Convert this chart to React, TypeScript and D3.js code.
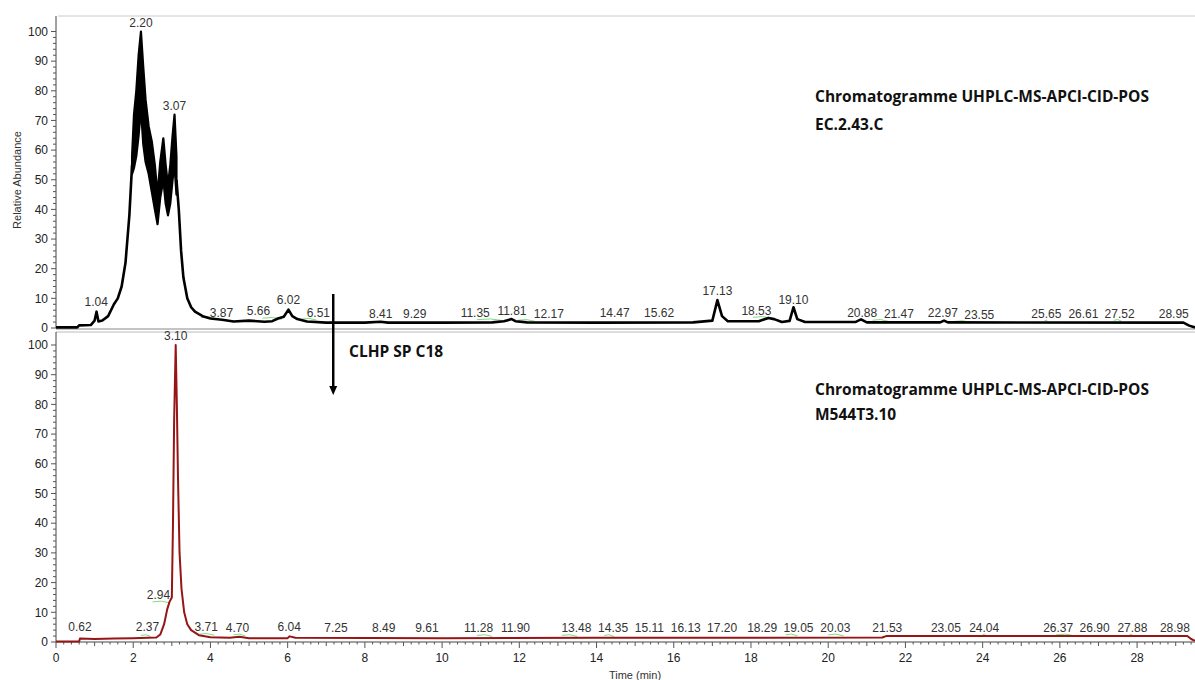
import * as d3 from "d3"

// EC.2.43.C trace (time min, relative abundance), before and after the noisy cluster
const topRise: [number, number][] = [
  [0, 0.2], [0.55, 0.2], [0.6, 0.9], [0.9, 1.0], [1.0, 2.5], [1.05, 5.5], [1.1, 2.2],
  [1.2, 2.5], [1.35, 4], [1.5, 8], [1.6, 10], [1.7, 14], [1.8, 22], [1.9, 38], [1.97, 55],
]
const topTail: [number, number][] = [
  [3.12, 50], [3.18, 40], [3.24, 26], [3.3, 17], [3.4, 10], [3.5, 7], [3.6, 5.5], [3.8, 4],
  [4.0, 3.2], [4.3, 2.8], [4.6, 2.2], [5.0, 2.5], [5.4, 2.1], [5.6, 2.3], [5.75, 3.2],
  [5.9, 3.8], [6.02, 6.2], [6.12, 4], [6.25, 3], [6.5, 2.2], [7.0, 1.8], [8.0, 1.8],
  [8.4, 2.1], [8.6, 1.8], [10, 1.8], [11.3, 1.9], [11.6, 2.3], [11.8, 3], [11.9, 2.3],
  [12.2, 1.9], [14, 1.8], [16.5, 1.9], [17.0, 2.5], [17.13, 9.4], [17.25, 4], [17.4, 2.3],
  [18.2, 2.3], [18.45, 3.4], [18.6, 3], [18.8, 2], [19.0, 2.4], [19.1, 7], [19.2, 3],
  [19.4, 2], [20.7, 2], [20.85, 2.9], [21.0, 1.9], [22.9, 1.9], [23.0, 2.5], [23.1, 1.9],
  [29.2, 1.8], [29.35, 0.8], [29.5, 0.2],
]

// noisy part of the main cluster: [time, low, high]
const topBand: [number, number, number][] = [
  [1.97, 52, 58], [2.02, 54, 72], [2.08, 58, 80], [2.14, 65, 92], [2.2, 74, 100],
  [2.26, 62, 88], [2.32, 56, 77], [2.4, 52, 68], [2.48, 46, 63], [2.56, 40, 55],
  [2.63, 35, 45], [2.7, 44, 56], [2.78, 50, 64], [2.84, 42, 55], [2.9, 38, 48],
  [2.96, 42, 55], [3.02, 50, 65], [3.07, 55, 72], [3.12, 45, 58],
]

// M544T3.10 trace
const bottomTrace: [number, number][] = [
  [0, 0.2], [0.6, 0.2], [0.62, 1.2], [1.0, 1.0], [1.5, 1.2], [2.0, 1.3], [2.37, 1.4],
  [2.6, 1.5], [2.7, 2.5], [2.8, 6], [2.88, 11], [2.94, 13.5], [3.0, 15], [3.03, 40],
  [3.06, 75], [3.1, 100], [3.13, 80], [3.16, 55], [3.2, 30], [3.25, 18], [3.32, 10],
  [3.4, 6], [3.5, 4], [3.7, 2.3], [4.0, 1.6], [4.5, 1.4], [4.75, 1.8], [5.0, 1.3],
  [6.0, 1.3], [6.05, 1.9], [6.2, 1.4], [10, 1.3], [14, 1.4], [21.4, 1.5], [21.5, 2.0],
  [29.3, 2.0], [29.4, 1.0], [29.5, 0.4],
]

// peak labels: [label, apex height]
const topPeaks: [string, number][] = [
  ["1.04", 5.7], ["2.20", 100], ["3.07", 72], ["3.87", 2], ["5.66", 2.6], ["6.02", 6.4],
  ["6.51", 2], ["8.41", 1.8], ["9.29", 1.8], ["11.35", 2], ["11.81", 2.7], ["12.17", 1.8],
  ["14.47", 2], ["15.62", 2], ["17.13", 9.4], ["18.53", 2.6], ["19.10", 6.4], ["20.88", 2],
  ["21.47", 1.8], ["22.97", 2], ["23.55", 1.5], ["25.65", 1.8], ["26.61", 1.8],
  ["27.52", 1.8], ["28.95", 1.8],
]
const bottomPeaks: [string, number][] = [
  ["0.62", 2], ["2.37", 2], ["2.94", 12.8], ["3.10", 100], ["3.71", 2], ["4.70", 1.7],
  ["6.04", 2], ["7.25", 1.7], ["8.49", 1.7], ["9.61", 1.7], ["11.28", 1.7], ["11.90", 1.8],
  ["13.48", 1.7], ["14.35", 1.7], ["15.11", 1.7], ["16.13", 1.7], ["17.20", 1.7],
  ["18.29", 1.8], ["19.05", 1.7], ["20.03", 1.7], ["21.53", 1.7], ["23.05", 1.7],
  ["24.04", 1.7], ["26.37", 1.7], ["26.90", 1.8], ["27.88", 1.7], ["28.98", 1.7],
]

// green integration marks: [start, end, level]
const topMarks: [number, number, number][] = [
  [3.75, 4.15, 3.5], [5.35, 5.85, 3.3], [6.35, 6.75, 3], [10.9, 11.6, 2.8],
  [11.95, 12.4, 2.6], [18.05, 18.55, 3.6], [21.15, 21.55, 2.6], [23.25, 23.7, 2.2],
  [25.6, 25.7, 2.4], [27.4, 27.6, 2.6],
]
const bottomMarks: [number, number, number][] = [
  [2.2, 2.45, 2.2], [2.5, 2.95, 13.5], [3.7, 4.1, 2.6], [4.6, 4.9, 2.4], [10.9, 11.3, 2.2],
  [13.1, 13.5, 2.2], [14.2, 14.45, 2.2], [18.9, 19.2, 2.4], [20.0, 20.4, 2.4],
  [24.0, 24.1, 2.4], [25.9, 26.4, 2.4], [27.8, 27.9, 2.4],
]

const xTicks = d3.range(0, 29, 2)
const yTicks = d3.range(0, 101, 10)
const arrowTime = 7.18

const W = 1195
const H = 680
const FONT = "'Liberation Sans', Arial, sans-serif"
const NOTE_FONT = "'Open Sans', 'Noto Sans', sans-serif"
const RED = "#961515"

type Placed = { t: string; h: number; x: number; y: number; w: number; cx: number }

const bisect = d3.bisector((d: [number, number]) => d[0]).left

export default function App() {
  const x = d3.scaleLinear().domain([0, 29.5]).range([56, 1195])
  const yTop = d3.scaleLinear().domain([0, 100]).range([328, 31.5])
  const yBot = d3.scaleLinear().domain([0, 100]).range([642, 345])

  const line = (y: d3.ScaleLinear<number, number>) =>
    d3.line<[number, number]>().x((d) => x(d[0])).y((d) => y(d[1]))
  const band = d3
    .area<[number, number, number]>()
    .x((d) => x(d[0]))
    .y0((d) => yTop(d[1]))
    .y1((d) => yTop(d[2]))

  // upper outline of each trace, used only to keep labels off the curve
  const topOutline: [number, number][] = [
    ...topRise,
    ...topBand.map((d): [number, number] => [d[0], d[2]]),
    ...topTail,
  ]
  const maxOver = (prof: [number, number][], t0: number, t1: number) => {
    let m = 0
    const at = (t: number) => {
      const i = Math.min(Math.max(bisect(prof, t), 1), prof.length - 1)
      const [a, b] = [prof[i - 1], prof[i]]
      return a[1] + ((b[1] - a[1]) * (t - a[0])) / (b[0] - a[0] || 1)
    }
    m = Math.max(at(t0), at(t1))
    prof.forEach(([t, v]) => {
      if (t >= t0 && t <= t1) m = Math.max(m, v)
    })
    return m
  }

  const yAxis = (y: d3.ScaleLinear<number, number>, top: number) => (
    <g>
      <line x1={56} x2={56} y1={top} y2={y(0)} stroke="#444" />
      {d3.range(0, 101, 2).map((v) => (
        <line key={v} x1={v % 10 === 0 ? 51 : 53} x2={56} y1={y(v)} y2={y(v)} stroke="#555" />
      ))}
      {yTicks.map((v) => (
        <text key={"t" + v} x={48} y={y(v)} dy="0.35em" textAnchor="end" fontSize={12} fill="#222">
          {v}
        </text>
      ))}
    </g>
  )

  // higher peaks keep their place, lower ones slide sideways until free
  const placeLabels = (
    peaks: [string, number][],
    y: d3.ScaleLinear<number, number>,
    prof: [number, number][],
  ) => {
    const items: Placed[] = peaks.map(([t, h]) => ({
      t,
      h,
      x: x(+t),
      y: y(h) - 5,
      w: t.length * 6.67 - 3.3,
      cx: 0,
    }))
    const placed: Placed[] = []
    for (const it of [...items].sort((a, b) => b.h - a.h)) {
      const free = (cx: number) =>
        y.invert(it.y + 1) >= maxOver(prof, x.invert(cx - it.w / 2), x.invert(cx + it.w / 2)) &&
        placed.every((p) => Math.abs(p.y - it.y) > 14 || Math.abs(p.cx - cx) >= (p.w + it.w) / 2 + 6)
      let cx = it.x
      for (let d = 0; d < 100; d++) {
        if (free(it.x - d)) { cx = it.x - d; break }
        if (free(it.x + d)) { cx = it.x + d; break }
      }
      it.cx = cx
      placed.push(it)
    }
    return items
  }

  const labels = (peaks: [string, number][], y: d3.ScaleLinear<number, number>, prof: [number, number][]) =>
    placeLabels(peaks, y, prof).map((p) => (
      <text key={p.t} x={p.cx} y={p.y} textAnchor="middle" fontSize={12} fill="#333">
        {p.t}
      </text>
    ))

  const marks = (m: [number, number, number][], y: d3.ScaleLinear<number, number>) =>
    m.map(([a, b, v], i) => (
      <path
        key={i}
        d={`M${x(a)},${y(v)} Q${x((a + b) / 2)},${y(v) - 2} ${x(b)},${y(v) + 1}`}
        fill="none"
        stroke="#7fdc7f"
        strokeWidth={1}
      />
    ))

  return (
    <svg
      width={W}
      height={H}
      style={{ position: "absolute", left: 0, top: 0, background: "#fff" }}
      fontFamily={FONT}
    >
      {/* panel frames */}
      <line x1={58} x2={W} y1={16} y2={16} stroke="#ccc" />
      <line x1={56} x2={W} y1={329} y2={329} stroke="#888" />
      <line x1={56} x2={W} y1={332} y2={332} stroke="#bbb" />

      {yAxis(yTop, 16)}
      {yAxis(yBot, 332)}

      {/* x axis */}
      <line x1={56} x2={W} y1={642} y2={642} stroke="#444" />
      {d3.range(0, 148).map((i) => {
        const t = i * 0.2
        const major = i % 10 === 0
        const mid = i % 5 === 0
        return (
          <line key={i} x1={x(t)} x2={x(t)} y1={642} y2={642 + (major ? 6 : mid ? 4 : 2.5)} stroke="#555" />
        )
      })}
      {xTicks.map((t) => (
        <text key={t} x={x(t)} y={658} dy="0.35em" textAnchor="middle" fontSize={12} fill="#222">
          {t}
        </text>
      ))}
      <text x={635} y={675} dy="0.35em" textAnchor="middle" fontSize={11} fill="#333">
        Time (min)
      </text>
      <text
        transform={`translate(17,180) rotate(-90)`}
        dy="0.35em"
        textAnchor="middle"
        fontSize={11}
        fill="#333"
      >
        Relative Abundance
      </text>

      {/* traces */}
      {marks(topMarks, yTop)}
      {marks(bottomMarks, yBot)}
      <path d={line(yTop)(topRise) ?? ""} fill="none" stroke="#000" strokeWidth={2.6} strokeLinejoin="round" />
      <path d={line(yTop)(topTail) ?? ""} fill="none" stroke="#000" strokeWidth={2.6} strokeLinejoin="round" />
      <path d={band(topBand) ?? ""} fill="#000" stroke="#000" strokeWidth={2.2} strokeLinejoin="round" />
      <path d={line(yBot)(bottomTrace) ?? ""} fill="none" stroke={RED} strokeWidth={2} strokeLinejoin="round" />

      {labels(topPeaks, yTop, topOutline)}
      {labels(bottomPeaks, yBot, bottomTrace)}

      {/* annotations */}
      <line x1={x(arrowTime)} x2={x(arrowTime)} y1={294} y2={388} stroke="#000" strokeWidth={2.5} />
      <path
        d={`M${x(arrowTime) - 4},${386} L${x(arrowTime) + 4},${386} L${x(arrowTime)},${395} Z`}
        fill="#000"
      />
      <g fontFamily={NOTE_FONT} fontWeight={700} fontSize={15.5} fill="#111">
        <text x={349} y={352} dy="0.35em">CLHP SP C18</text>
        <text x={815} y={97} dy="0.35em">Chromatogramme UHPLC-MS-APCI-CID-POS</text>
        <text x={815} y={125} dy="0.35em">EC.2.43.C</text>
        <text x={815} y={390} dy="0.35em">Chromatogramme UHPLC-MS-APCI-CID-POS</text>
        <text x={815} y={415} dy="0.35em">M544T3.10</text>
      </g>
    </svg>
  )
}
